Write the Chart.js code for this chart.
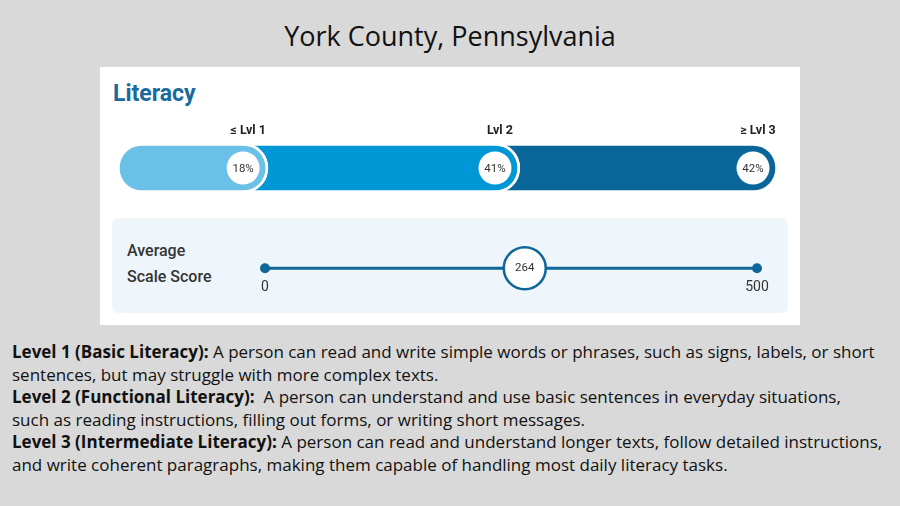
<!DOCTYPE html>
<html>
<head>
<meta charset="utf-8">
<script src="https://cdn.jsdelivr.net/npm/chart.js@4/dist/chart.umd.min.js"></script>
<style>
  body { margin: 0; width: 900px; height: 506px; background: #d9d9d9; overflow: hidden; position: relative; font-family: "Open Sans", sans-serif; }
  .title { position: absolute; left: 0; width: 900px; top: 17px; text-align: center; font-size: 27px; color: #111; }
  .card { position: absolute; left: 100px; top: 67px; width: 700px; height: 258px; background: #fff; }
  .card h2 { position: absolute; left: 13px; top: 13px; margin: 0; font-family: Roboto, sans-serif; font-weight: 700; font-size: 23px; color: #1b6a9c; }
  .panel { position: absolute; left: 12px; top: 151px; width: 676px; height: 95px; background: #eef6fb; border-radius: 6px; }
  .panel span { position: absolute; left: 15px; top: 20px; font-family: Roboto, sans-serif; font-weight: 500; font-size: 16px; line-height: 26px; color: #333; }
  canvas { position: absolute; }
  .notes { position: absolute; left: 12px; top: 341px; font-size: 17px; line-height: 22.6px; color: #111; white-space: nowrap; }
</style>
</head>
<body>
<div class="title">York County, Pennsylvania</div>
<div class="card">
  <h2>Literacy</h2>
  <div class="panel"><span>Average<br>Scale Score</span></div>
</div>
<canvas id="barChart" width="700" height="116" style="left:100px; top:110px;"></canvas>
<canvas id="scoreChart" width="560" height="80" style="left:240px; top:230px;"></canvas>
<div class="notes">
  <b>Level 1 (Basic Literacy):</b> A person can read and write simple words or phrases, such as signs, labels, or short<br>
  sentences, but may struggle with more complex texts.<br>
  <b>Level 2 (Functional Literacy):</b>&nbsp; A person can understand and use basic sentences in everyday situations,<br>
  such as reading instructions, filling out forms, or writing short messages.<br>
  <b>Level 3 (Intermediate Literacy):</b> A person can read and understand longer texts, follow detailed instructions,<br>
  and write coherent paragraphs, making them capable of handling most daily literacy tasks.
</div>
<script>
// datos
const levelLabels = ['≤ Lvl 1', 'Lvl 2', '≥ Lvl 3'];
const levelShares = [18, 41, 42];
const scoreRange = [0, 500];
const averageScore = [264];

const levelColors = ['#6bc0e7', '#0097d7', '#0a6699'];
const sliderBlue = '#0f6699';
const capPad = 6.6; // espacio para el extremo redondeado

// acumulado de porcentajes
let running = 0;
const levelEnds = levelShares.map(v => running += v);

// circulos con porcentaje y etiquetas arriba
const barLabels = {
    id: 'barLabels',
    afterDatasetsDraw(chart) {
        const ctx = chart.ctx;
        chart.data.datasets.forEach((ds, i) => {
            const bar = chart.getDatasetMeta(i).data[0];
            const cx = bar.x - 25;
            ctx.save();
            ctx.beginPath();
            ctx.arc(cx, bar.y, 16.5, 0, Math.PI * 2);
            ctx.fillStyle = '#fff';
            ctx.fill();
            ctx.fillStyle = '#333';
            ctx.font = '11.5px Roboto';
            ctx.textAlign = 'center';
            ctx.textBaseline = 'middle';
            ctx.fillText(levelShares[i] + '%', cx, bar.y + 1);
            ctx.fillStyle = '#222';
            ctx.font = 'bold 12.5px Roboto';
            ctx.fillText(levelLabels[i], bar.x - 20, 21);
            ctx.restore();
        });
    }
};

new Chart(document.getElementById('barChart'), {
    type: 'bar',
    data: {
        labels: ['Literacy'],
        datasets: levelShares.map((v, i) => ({
            label: levelLabels[i],
            data: [[-capPad, levelEnds[i]]],
            backgroundColor: levelColors[i],
            borderColor: '#fff',
            borderWidth: 3,
            borderSkipped: false,
            borderRadius: 30,
            barThickness: 50,
            grouped: false
        }))
    },
    options: {
        indexAxis: 'y',
        responsive: false,
        animation: false,
        layout: { padding: { left: 17, right: 22, top: 0, bottom: 0 } },
        scales: {
            x: { display: false, min: -capPad, max: 101 },
            y: { display: false }
        },
        plugins: { legend: { display: false }, tooltip: { enabled: false } }
    },
    plugins: [barLabels]
});

// texto del puntaje dentro del circulo
const scoreLabel = {
    id: 'scoreLabel',
    afterDatasetsDraw(chart) {
        const ctx = chart.ctx;
        const pt = chart.getDatasetMeta(0).data[0];
        ctx.save();
        ctx.fillStyle = '#333';
        ctx.font = '11.5px Roboto';
        ctx.textAlign = 'center';
        ctx.textBaseline = 'middle';
        ctx.fillText(String(averageScore[0]), pt.x, pt.y);
        ctx.restore();
    }
};

new Chart(document.getElementById('scoreChart'), {
    type: 'scatter',
    data: {
        datasets: [
            {
                data: averageScore.map(v => ({ x: v, y: 0 })),
                pointRadius: 21,
                pointBackgroundColor: '#fff',
                pointBorderColor: sliderBlue,
                pointBorderWidth: 2.5,
                clip: false,
                order: 0
            },
            {
                data: scoreRange.map(v => ({ x: v, y: 0 })),
                showLine: true,
                borderColor: sliderBlue,
                borderWidth: 3,
                pointRadius: 5,
                pointBackgroundColor: sliderBlue,
                pointBorderWidth: 0,
                clip: false,
                order: 1
            }
        ]
    },
    options: {
        responsive: false,
        animation: false,
        layout: { padding: { left: 25, right: 43, top: 30, bottom: 17 } },
        scales: {
            x: {
                type: 'linear',
                min: scoreRange[0],
                max: scoreRange[1],
                grid: { display: false, drawTicks: false },
                border: { display: false },
                ticks: { stepSize: 500, color: '#333', font: { family: 'Roboto', size: 14 }, padding: 3, maxRotation: 0 }
            },
            y: { display: false, min: -1, max: 1 }
        },
        plugins: { legend: { display: false }, tooltip: { enabled: false } }
    },
    plugins: [scoreLabel]
});
</script>
</body>
</html>
